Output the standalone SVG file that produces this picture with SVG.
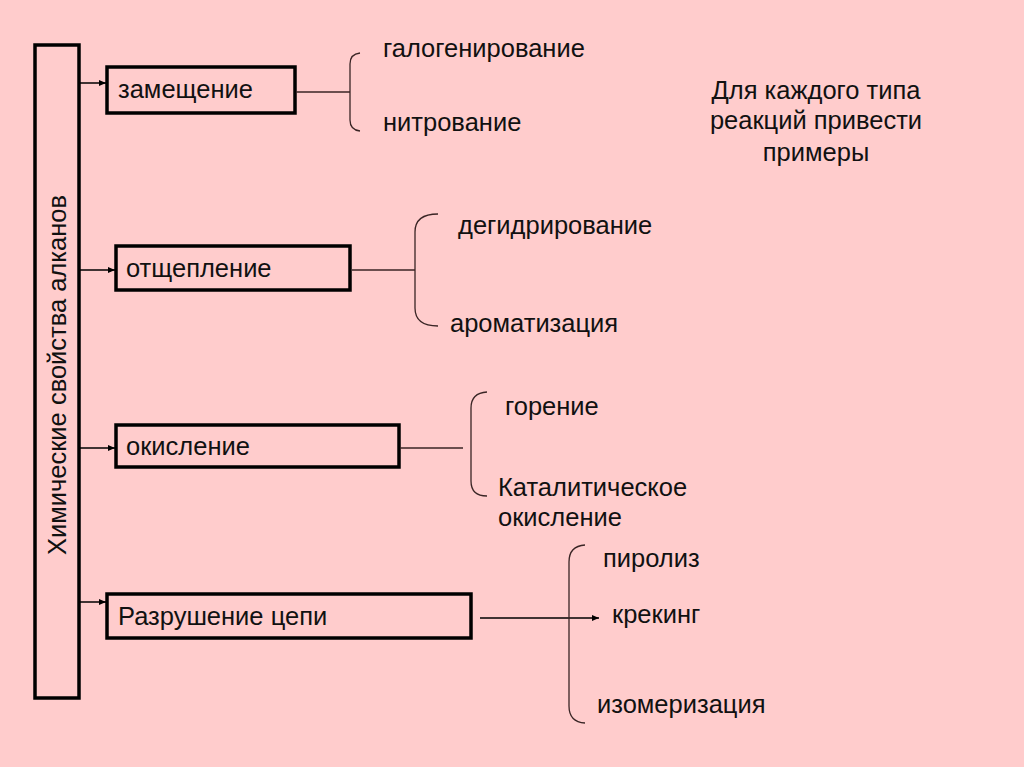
<svg xmlns="http://www.w3.org/2000/svg" width="1024" height="767" viewBox="0 0 1024 767">
<style>
text{font-family:"Liberation Sans",Arial,sans-serif;font-size:25.5px;fill:#111}
.box{fill:none;stroke:#000;stroke-width:3.5}
.ln{fill:none;stroke:#3a2525;stroke-width:1.3}
.ar{fill:none;stroke:#000;stroke-width:1.5}
</style>
<defs>
<marker id="ah" markerWidth="8" markerHeight="8" refX="7" refY="4" orient="auto" markerUnits="userSpaceOnUse">
<path d="M0,1 L7,4 L0,7 Z" fill="#000"/>
</marker>
</defs>
<rect width="1024" height="767" fill="#ffcccc"/>
<g id="main">
<rect class="box" x="35" y="45" width="44" height="653" stroke-width="4"/>
<text transform="translate(66,375) rotate(-90)" text-anchor="middle">Химические свойства алканов</text>
</g>
<g id="n1">
<rect class="box" x="107" y="67" width="188" height="46"/>
<text x="118" y="98">замещение</text>
</g>
<g id="n2">
<rect class="box" x="116" y="246" width="234" height="44"/>
<text x="126" y="277">отщепление</text>
</g>
<g id="n3">
<rect class="box" x="116" y="425" width="283" height="42"/>
<text x="126" y="455">окисление</text>
</g>
<g id="n4">
<rect class="box" x="107" y="594" width="364" height="44"/>
<text x="118" y="625">Разрушение цепи</text>
</g>
<g id="t1">
<text x="383" y="57">галогенирование</text>
<text x="383" y="131">нитрование</text>
</g>
<g id="t2">
<text x="458" y="234">дегидрирование</text>
<text x="450" y="332">ароматизация</text>
</g>
<g id="t3">
<text x="505" y="415">горение</text>
<text x="498" y="496">Каталитическое</text>
<text x="498" y="526">окисление</text>
</g>
<g id="t4">
<text x="603" y="567">пиролиз</text>
<text x="612" y="623">крекинг</text>
<text x="597" y="713">изомеризация</text>
</g>
<g id="note">
<text x="816" y="99" text-anchor="middle">Для каждого типа</text>
<text x="816" y="129" text-anchor="middle">реакций привести</text>
<text x="816" y="161" text-anchor="middle">примеры</text>
</g>
<g id="connectors">
<line class="ar" x1="80" y1="83" x2="106" y2="83" marker-end="url(#ah)"/>
<line class="ar" x1="80" y1="270" x2="115" y2="270" marker-end="url(#ah)"/>
<line class="ar" x1="80" y1="448" x2="115" y2="448" marker-end="url(#ah)"/>
<line class="ar" x1="80" y1="602" x2="106" y2="602" marker-end="url(#ah)"/>
<line class="ln" x1="296" y1="92" x2="350" y2="92"/>
<path class="ln" d="M360,53 Q350,54 350,64 L350,120 Q350,130 360,131"/>
<line class="ln" x1="352" y1="270" x2="415" y2="270"/>
<path class="ln" d="M438,214 Q415,214 415,232 L415,308 Q415,326 438,326"/>
<line class="ln" x1="400" y1="448" x2="463" y2="448"/>
<path class="ln" d="M487,392 Q471,393 471,408 L471,481 Q471,496 487,496"/>
<line class="ar" x1="480" y1="618" x2="599" y2="618" marker-end="url(#ah)"/>
<path class="ln" d="M585,545 Q569,546 569,562 L569,706 Q569,722 585,723"/>
</g>
</svg>
